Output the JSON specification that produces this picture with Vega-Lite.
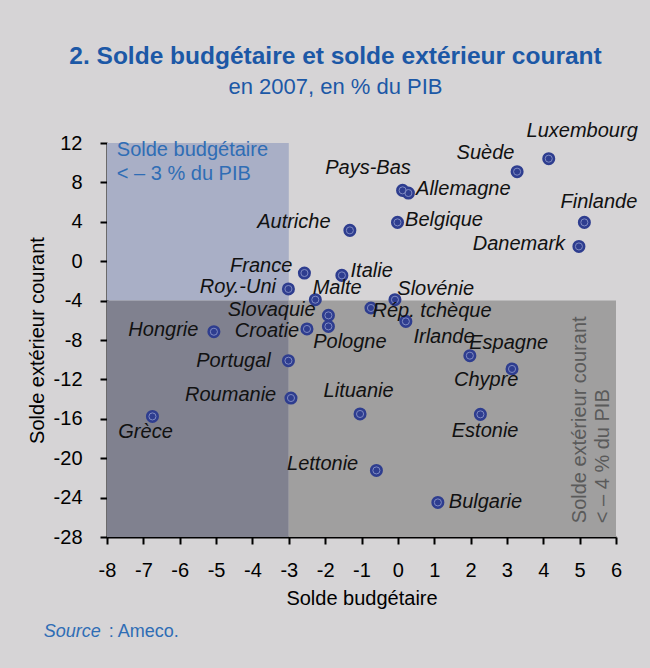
{
  "$schema": "https://vega.github.io/schema/vega-lite/v6.json",
  "width": 509,
  "height": 394,
  "autosize": {"type": "none"},
  "padding": {"left": 107, "top": 143, "right": 34, "bottom": 131},
  "background": "#d6d4d6",
  "config": {
    "view": {"stroke": null},
    "font": "Liberation Sans",
    "axis": {"grid": false, "domainColor": "#000", "domainWidth": 2, "tickColor": "#000", "tickWidth": 2, "tickSize": 7, "labelFontSize": 20, "labelColor": "#000", "titleFontSize": 20, "titleFontWeight": "normal", "titleColor": "#000", "labelFlush": false, "labelOverlap": false}
  },
  "title": {
    "text": "2. Solde budgétaire et solde extérieur courant",
    "subtitle": "en 2007, en % du PIB",
    "anchor": "middle",
    "frame": "group",
    "dx": -26,
    "offset": 22,
    "font": "Liberation Sans",
    "fontWeight": "bold",
    "fontSize": 24.5,
    "color": "#1c58a6",
    "subtitleFont": "Liberation Sans",
    "subtitleFontSize": 22,
    "subtitleColor": "#1c58a6",
    "subtitlePadding": 7
  },
  "layer": [
    {
      "data": {"values": [
        {"zone": "blue", "x": -8, "x2": -3, "y": -4, "y2": 12},
        {"zone": "dark", "x": -8, "x2": -3, "y": -28, "y2": -4},
        {"zone": "grey", "x": -3, "x2": 6, "y": -28, "y2": -4}
      ]},
      "mark": {"type": "rect", "opacity": 1},
      "encoding": {
        "x": {"field": "x", "type": "quantitative", "title": "Solde budgétaire", "scale": {"domain": [-8, 6], "nice": false, "zero": false},
          "axis": {"values": [-8,-7,-6,-5,-4,-3,-2,-1,0,1,2,3,4,5,6], "labelExpr": "'' + datum.value", "labelPadding": 16, "titlePadding": 8}},
        "x2": {"field": "x2"},
        "y": {"field": "y", "type": "quantitative", "title": "Solde extérieur courant", "scale": {"domain": [-28, 12], "nice": false, "zero": false},
          "axis": {"values": [-28,-24,-20,-16,-12,-8,-4,0,4,8,12], "labelExpr": "'' + datum.value", "labelPadding": 18, "titlePadding": 6}},
        "y2": {"field": "y2"},
        "color": {"field": "zone", "type": "nominal", "scale": {"domain": ["blue", "dark", "grey"], "range": ["#a9afc6", "#80818f", "#a09f9f"]}, "legend": null}
      }
    },
    {
      "data": {"name": "pts", "values": [
        {"name": "Luxembourg", "x": 4.15, "y": 10.41, "lx": 5.07, "ly": 13.23},
        {"name": "Suède", "x": 3.28, "y": 9.09, "lx": 2.41, "ly": 10.98},
        {"name": "Pays-Bas", "x": 0.13, "y": 7.19, "lx": -0.82, "ly": 9.46},
        {"name": "Allemagne", "x": 0.29, "y": 6.92, "lx": 1.80, "ly": 7.29},
        {"name": "Belgique", "x": -0.01, "y": 3.94, "lx": 1.27, "ly": 4.14},
        {"name": "Finlande", "x": 5.13, "y": 3.94, "lx": 5.53, "ly": 5.99},
        {"name": "Danemark", "x": 4.98, "y": 1.50, "lx": 3.33, "ly": 1.70},
        {"name": "Autriche", "x": -1.32, "y": 3.13, "lx": -2.86, "ly": 3.99},
        {"name": "France", "x": -2.57, "y": -1.20, "lx": -3.76, "ly": -0.53},
        {"name": "Italie", "x": -1.54, "y": -1.44, "lx": -0.72, "ly": -0.98},
        {"name": "Roy.-Uni", "x": -3.01, "y": -2.82, "lx": -4.40, "ly": -2.57},
        {"name": "Malte", "x": -2.27, "y": -3.91, "lx": -1.67, "ly": -2.71},
        {"name": "Slovénie", "x": -0.08, "y": -3.91, "lx": 1.04, "ly": -2.86},
        {"name": "Rép. tchèque", "x": -0.74, "y": -4.75, "lx": 0.94, "ly": -5.01},
        {"name": "Slovaquie", "x": -1.91, "y": -5.50, "lx": -3.47, "ly": -5.00},
        {"name": "Pologne", "x": -1.91, "y": -6.62, "lx": -1.32, "ly": -8.19},
        {"name": "Croatie", "x": -2.50, "y": -6.88, "lx": -3.60, "ly": -7.10},
        {"name": "Hongrie", "x": -5.06, "y": -7.16, "lx": -6.45, "ly": -6.98},
        {"name": "Irlande", "x": 0.22, "y": -6.11, "lx": 1.27, "ly": -7.69},
        {"name": "Espagne", "x": 1.98, "y": -9.59, "lx": 3.05, "ly": -8.35},
        {"name": "Chypre", "x": 3.14, "y": -10.94, "lx": 2.43, "ly": -12.06},
        {"name": "Portugal", "x": -3.01, "y": -10.10, "lx": -4.52, "ly": -10.12},
        {"name": "Roumanie", "x": -2.94, "y": -13.89, "lx": -4.60, "ly": -13.60},
        {"name": "Grèce", "x": -6.75, "y": -15.76, "lx": -6.94, "ly": -17.33},
        {"name": "Lituanie", "x": -1.04, "y": -15.51, "lx": -1.08, "ly": -13.17},
        {"name": "Estonie", "x": 2.27, "y": -15.55, "lx": 2.40, "ly": -17.19},
        {"name": "Lettonie", "x": -0.59, "y": -21.24, "lx": -2.07, "ly": -20.58},
        {"name": "Bulgarie", "x": 1.10, "y": -24.49, "lx": 2.41, "ly": -24.44}
      ]},
      "layer": [
        {
          "mark": {"type": "circle", "size": 170, "color": "#2e3d8f", "opacity": 1},
          "encoding": {
            "x": {"field": "x", "type": "quantitative", "title": "Solde budgétaire",
              "axis": {"values": [-8,-7,-6,-5,-4,-3,-2,-1,0,1,2,3,4,5,6], "labelExpr": "'' + datum.value", "labelPadding": 16, "titlePadding": 8}},
            "y": {"field": "y", "type": "quantitative", "title": "Solde extérieur courant",
              "axis": {"values": [-28,-24,-20,-16,-12,-8,-4,0,4,8,12], "labelExpr": "'' + datum.value", "labelPadding": 18, "titlePadding": 6}}
          }
        },
        {
          "mark": {"type": "point", "shape": "circle", "size": 50, "filled": false, "stroke": "#7f8ac2", "strokeWidth": 1, "opacity": 1},
          "encoding": {
            "x": {"field": "x", "type": "quantitative", "title": "Solde budgétaire",
              "axis": {"values": [-8,-7,-6,-5,-4,-3,-2,-1,0,1,2,3,4,5,6], "labelExpr": "'' + datum.value", "labelPadding": 16, "titlePadding": 8}},
            "y": {"field": "y", "type": "quantitative", "title": "Solde extérieur courant",
              "axis": {"values": [-28,-24,-20,-16,-12,-8,-4,0,4,8,12], "labelExpr": "'' + datum.value", "labelPadding": 18, "titlePadding": 6}}
          }
        },
        {
          "mark": {"type": "text", "fontStyle": "italic", "fontSize": 20, "color": "#111111", "align": "center", "baseline": "middle"},
          "encoding": {
            "x": {"field": "lx", "type": "quantitative", "title": "Solde budgétaire",
              "axis": {"values": [-8,-7,-6,-5,-4,-3,-2,-1,0,1,2,3,4,5,6], "labelExpr": "'' + datum.value", "labelPadding": 16, "titlePadding": 8}},
            "y": {"field": "ly", "type": "quantitative", "title": "Solde extérieur courant",
              "axis": {"values": [-28,-24,-20,-16,-12,-8,-4,0,4,8,12], "labelExpr": "'' + datum.value", "labelPadding": 18, "titlePadding": 6}},
            "text": {"field": "name", "type": "nominal"}
          }
        }
      ]
    },
    {
      "data": {"values": [{"x": -7.73, "y": 10.64, "t": ["Solde budgétaire", "< – 3 % du PIB"]}]},
      "mark": {"type": "text", "fontSize": 20, "color": "#2f6db5", "align": "left", "baseline": "alphabetic", "lineHeight": 24},
      "encoding": {
        "x": {"field": "x", "type": "quantitative", "title": "Solde budgétaire",
          "axis": {"values": [-8,-7,-6,-5,-4,-3,-2,-1,0,1,2,3,4,5,6], "labelExpr": "'' + datum.value", "labelPadding": 16, "titlePadding": 8}},
        "y": {"field": "y", "type": "quantitative", "title": "Solde extérieur courant",
          "axis": {"values": [-28,-24,-20,-16,-12,-8,-4,0,4,8,12], "labelExpr": "'' + datum.value", "labelPadding": 18, "titlePadding": 6}},
        "text": {"field": "t"}
      }
    },
    {
      "data": {"values": [
        {"x": 5.0, "y": -26.6, "t": "Solde extérieur courant"},
        {"x": 5.63, "y": -26.6, "t": "< – 4 % du PIB"}
      ]},
      "mark": {"type": "text", "fontSize": 20, "color": "#5a5a5a", "align": "left", "baseline": "middle", "angle": 270},
      "encoding": {
        "x": {"field": "x", "type": "quantitative", "title": "Solde budgétaire",
          "axis": {"values": [-8,-7,-6,-5,-4,-3,-2,-1,0,1,2,3,4,5,6], "labelExpr": "'' + datum.value", "labelPadding": 16, "titlePadding": 8}},
        "y": {"field": "y", "type": "quantitative", "title": "Solde extérieur courant",
          "axis": {"values": [-28,-24,-20,-16,-12,-8,-4,0,4,8,12], "labelExpr": "'' + datum.value", "labelPadding": 18, "titlePadding": 6}},
        "text": {"field": "t"}
      }
    },
    {
      "data": {"values": [{"x": -9.74, "y": -38.12, "t": "Source"}]},
      "mark": {"type": "text", "fontSize": 18, "fontStyle": "italic", "color": "#2f6db5", "align": "left", "baseline": "alphabetic"},
      "encoding": {
        "x": {"field": "x", "type": "quantitative", "title": "Solde budgétaire",
          "axis": {"values": [-8,-7,-6,-5,-4,-3,-2,-1,0,1,2,3,4,5,6], "labelExpr": "'' + datum.value", "labelPadding": 16, "titlePadding": 8}},
        "y": {"field": "y", "type": "quantitative", "title": "Solde extérieur courant",
          "axis": {"values": [-28,-24,-20,-16,-12,-8,-4,0,4,8,12], "labelExpr": "'' + datum.value", "labelPadding": 18, "titlePadding": 6}},
        "text": {"field": "t"}
      }
    },
    {
      "data": {"values": [{"x": -7.95, "y": -38.12, "t": ": Ameco."}]},
      "mark": {"type": "text", "fontSize": 18, "color": "#2f6db5", "align": "left", "baseline": "alphabetic"},
      "encoding": {
        "x": {"field": "x", "type": "quantitative", "title": "Solde budgétaire",
          "axis": {"values": [-8,-7,-6,-5,-4,-3,-2,-1,0,1,2,3,4,5,6], "labelExpr": "'' + datum.value", "labelPadding": 16, "titlePadding": 8}},
        "y": {"field": "y", "type": "quantitative", "title": "Solde extérieur courant",
          "axis": {"values": [-28,-24,-20,-16,-12,-8,-4,0,4,8,12], "labelExpr": "'' + datum.value", "labelPadding": 18, "titlePadding": 6}},
        "text": {"field": "t"}
      }
    }
  ]
}
